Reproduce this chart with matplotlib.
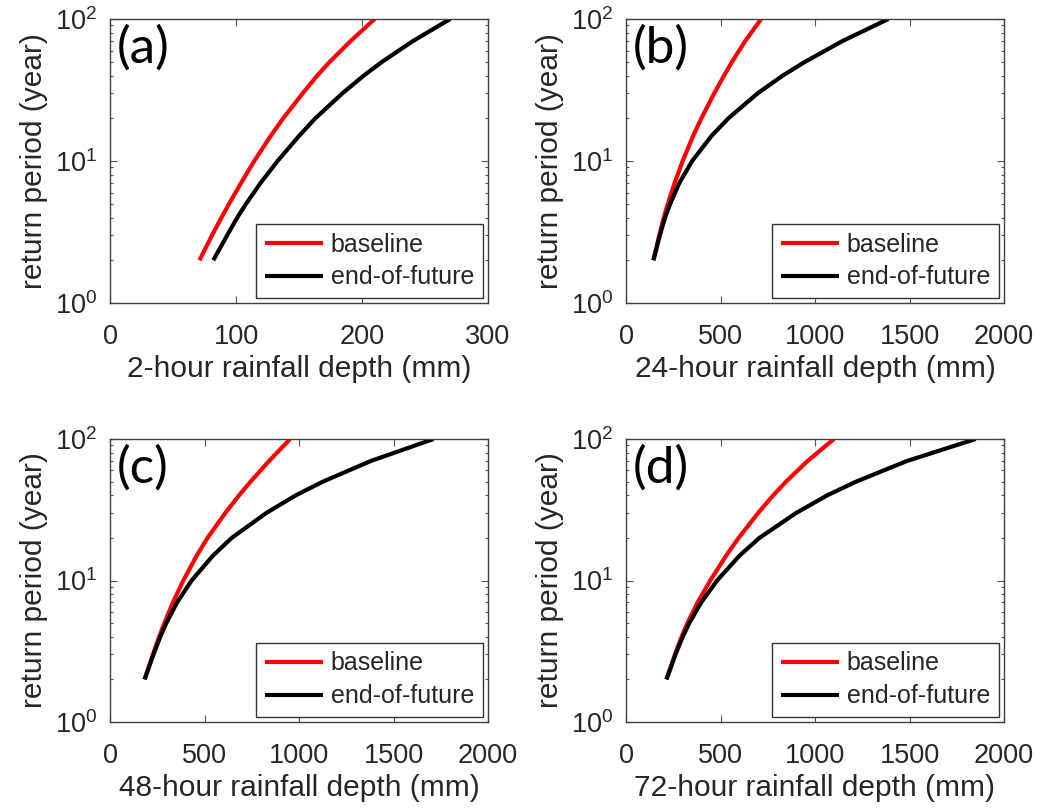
import matplotlib
matplotlib.use("Agg")
import matplotlib.pyplot as plt
from matplotlib.ticker import LogLocator, FixedLocator, LogFormatterSciNotation

plt.rcParams['font.family'] = ['Liberation Sans', 'DejaVu Sans']
plt.rcParams['mathtext.fontset'] = 'custom'
plt.rcParams['mathtext.rm'] = 'Liberation Sans'
plt.rcParams['mathtext.it'] = 'Liberation Sans'
plt.rcParams['mathtext.default'] = 'regular'

# return periods (years)
return_period = [2, 3, 4, 5, 7, 10, 15, 20, 30, 40, 50, 70, 100]

# rainfall depth (mm) read for each return period
depth_2h_baseline = [71, 81, 88.5, 94.5, 104, 114.5, 127.5, 137.5, 153, 164.5, 174.5, 191, 210]
depth_2h_future = [82, 93, 101, 108, 119.5, 133, 150, 163, 184.5, 201.5, 216, 240.5, 270]

depth_24h_baseline = [145, 176, 200, 221.5, 257, 300, 355, 399, 467, 519, 561, 631, 715]
depth_24h_future = [145, 179, 207, 234, 282, 350, 452, 542, 697, 830, 948, 1146, 1388]

depth_48h_baseline = [183, 227, 260, 288, 333, 388, 459, 516, 610, 683, 744, 842, 953]
depth_48h_future = [183, 230, 266, 298, 355, 432, 545, 644, 827, 983, 1127, 1381, 1712]

depth_72h_baseline = [214, 259, 294, 325, 379, 446, 530, 596, 699, 779, 847, 961, 1100]
depth_72h_future = [214, 262, 300, 335, 398, 482, 601, 706, 900, 1065, 1218, 1488, 1850]

panel_labels = ['(a)', '(b)', '(c)', '(d)']
x_labels = ['2-hour rainfall depth (mm)', '24-hour rainfall depth (mm)',
            '48-hour rainfall depth (mm)', '72-hour rainfall depth (mm)']
x_limits = [300, 2000, 2000, 2000]
x_ticks = [[0, 100, 200, 300],
           [0, 500, 1000, 1500, 2000],
           [0, 500, 1000, 1500, 2000],
           [0, 500, 1000, 1500, 2000]]
series_names = ['baseline', 'end-of-future']

baselines = [depth_2h_baseline, depth_24h_baseline, depth_48h_baseline, depth_72h_baseline]
futures = [depth_2h_future, depth_24h_future, depth_48h_future, depth_72h_future]

W, H = 1040, 811
fig = plt.figure(figsize=(W / 100, H / 100), dpi=100)

# axes boxes in pixels: left, top, right, bottom
boxes = [(110, 19, 488, 303), (626, 19, 1004, 303),
         (110, 439, 488, 722), (626, 439, 1004, 722)]

txt = '#262626'
for i in range(4):
    l, t, r, b = boxes[i]
    ax = fig.add_axes([l / W, 1 - b / H, (r - l) / W, (b - t) / H])
    ax.plot(baselines[i], return_period, color='#ff0000', lw=3, label=series_names[0],
            solid_capstyle='butt', solid_joinstyle='round')
    ax.plot(futures[i], return_period, color='black', lw=3, label=series_names[1],
            solid_capstyle='butt', solid_joinstyle='round')
    ax.set_yscale('log')
    ax.set_ylim(1, 100)
    ax.set_xlim(0, x_limits[i])
    ax.xaxis.set_major_locator(FixedLocator(x_ticks[i]))
    ax.yaxis.set_major_locator(LogLocator(base=10, numticks=5))
    ax.yaxis.set_major_formatter(LogFormatterSciNotation())
    ax.tick_params(axis='both', which='both', direction='in', top=True, right=True,
                   colors='#555555', labelcolor=txt, labelsize=19.5, width=0.8)
    ax.tick_params(axis='x', which='major', length=5, pad=15)
    ax.tick_params(axis='y', which='major', length=5, pad=9)
    ax.tick_params(axis='y', which='minor', length=2.5)
    for s in ax.spines.values():
        s.set_color('#404040')
        s.set_linewidth(1.0)
    ax.set_xlabel(x_labels[i], fontsize=21.5, color=txt, labelpad=4)
    ax.set_ylabel('return period (year)', fontsize=21.5, color=txt, labelpad=5)
    ax.text(0.018, 0.98, panel_labels[i], transform=ax.transAxes, fontsize=37,
            family=['Lato', 'DejaVu Sans'], va='top', ha='left', color='black')
    leg = ax.legend(loc='lower right', fontsize=18, frameon=True, fancybox=False,
                    edgecolor='#333333', framealpha=1, handlelength=2.35,
                    handletextpad=0.3, borderpad=0.35, labelspacing=0.35,
                    borderaxespad=0.2)
    leg.get_frame().set_linewidth(1.0)
    for tx in leg.get_texts():
        tx.set_color(txt)

fig.savefig('out.png', dpi=100)
